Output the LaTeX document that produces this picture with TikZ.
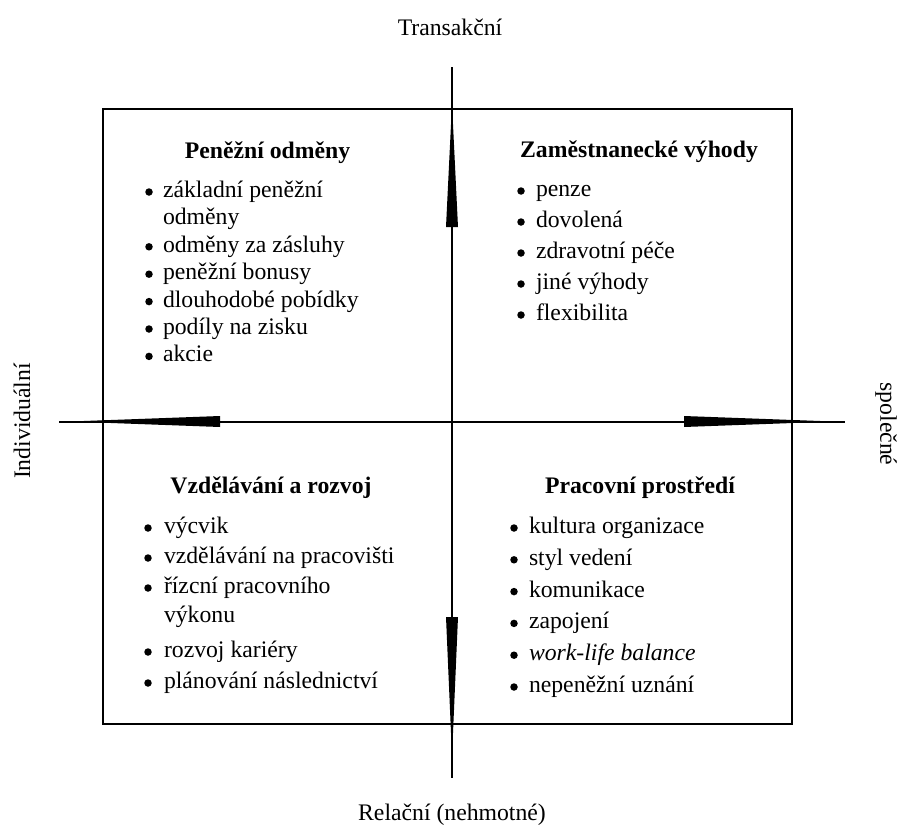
\documentclass[tikz,border=0pt]{standalone}
\usepackage{fontspec}
\setmainfont{Liberation Serif}
\begin{document}
\begin{tikzpicture}[x=1bp,y=-1bp,line width=2bp,
  every node/.style={font=\fontsize{23.8}{27}\selectfont, inner sep=0pt},
  ttl/.style={font=\fontsize{23.8}{27}\selectfont\bfseries, anchor=base},
  itm/.style={anchor=base west},
  dot/.style={circle, fill=black, draw=none, inner sep=0pt, minimum size=7.5bp},
  wedge/.style={fill=black, draw=none}]
\useasboundingbox (0,0) rectangle (898,840);
% frame
\draw (103,109) rectangle (792,724);
% axes
\coordinate (T) at (452,67);
\coordinate (B) at (452,778);
\coordinate (L) at (59,421.5);
\coordinate (R) at (845,421.5);
\draw (T) -- (B);
\draw (L) -- (R);
% wedges
\fill[wedge] (452,104) -- (458,227) -- (446,227) -- cycle;
\fill[wedge] (452,756) -- (458,617) -- (446,617) -- cycle;
\fill[wedge] (70,421.5) -- (220,416) -- (220,427) -- cycle;
\fill[wedge] (834,421.5) -- (684,416) -- (684,427) -- cycle;
% axis labels
\node[anchor=base] (lt) at (450,35) {Transakční};
\node (lb) at (452,815) {Relační (nehmotné)};
\node[rotate=90] (ll) at (22,421) {Individuální};
\node[rotate=-90] (lr) at (886,424) {společné};
% Q1
\node[ttl] (q1t) at (267.5,158) {Peněžní odměny};
\foreach \y/\t [count=\i] in {192/{základní peněžní},246.8/{odměny za zásluhy},274.2/{peněžní bonusy},301.6/{dlouhodobé pobídky},329/{podíly na zisku},356.4/{akcie}}{
  \node[dot] (q1b\i) at (149,\y) {};
  \node[itm] (q1i\i) at (162,\y+5.5) {\t};
}
\node[itm] (q1c) at (162,219.4+5.5) {odměny};
% Q2
\node[ttl] (q2t) at (639,157) {Zaměstnanecké výhody};
\foreach \y/\t [count=\i] in {191/{penze},222/{dovolená},253/{zdravotní péče},284/{jiné výhody},315/{flexibilita}}{
  \node[dot] (q2b\i) at (521,\y) {};
  \node[itm] (q2i\i) at (535,\y+5.5) {\t};
}
% Q3
\node[ttl] (q3t) at (271,493) {Vzdělávání a rozvoj};
\foreach \y/\t [count=\i] in {528/{výcvik},558/{vzdělávání na pracovišti},588/{řízcní pracovního},652/{rozvoj kariéry},683/{plánování následnictví}}{
  \node[dot] (q3b\i) at (148,\y) {};
  \node[itm] (q3i\i) at (163,\y+5.5) {\t};
}
\node[itm] (q3c) at (163,617+5.5) {výkonu};
% Q4
\node[ttl] (q4t) at (640,493) {Pracovní prostředí};
\foreach \y/\t [count=\i] in {528/{kultura organizace},559.8/{styl vedení},591.6/{komunikace},623.4/{zapojení},655.2/{\itshape work-life balance},687/{nepeněžní uznání}}{
  \node[dot] (q4b\i) at (514,\y) {};
  \node[itm] (q4i\i) at (528,\y+5.5) {\t};
}
\end{tikzpicture}
\end{document}
